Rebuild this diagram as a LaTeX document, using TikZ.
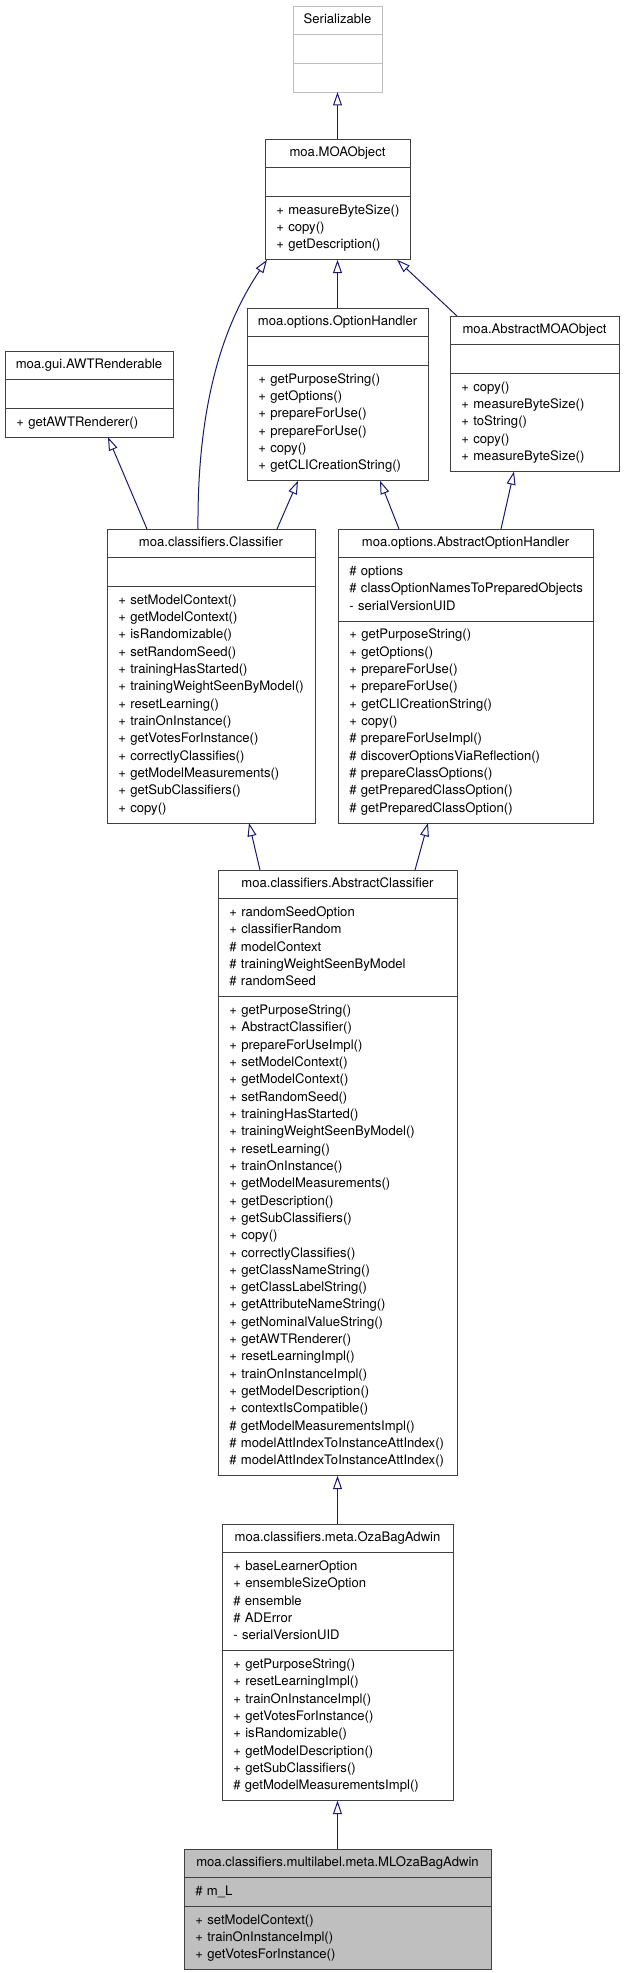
\documentclass[tikz,border=0pt]{standalone}
\usepackage{fontspec}
\setmainfont{TeX Gyre Heros}
\usetikzlibrary{arrows.meta,shapes.multipart}
\definecolor{midnightblue}{HTML}{191970}
\newcommand{\umlwidth}{0pt}
\newcommand{\umltitle}[1]{\makebox[\umlwidth][c]{\strut #1}}
\newcommand{\umlrow}[1]{\mbox{\strut #1}}

\begin{document}
\begin{tikzpicture}[x=1pt,y=-1pt,
    umlbox/.style={rectangle split, rectangle split parts=3, draw=black!75,
                   line width=1pt, text width=#1, inner xsep=11.3pt,
                   inner ysep=5.2pt, outer sep=0pt, align=left, anchor=north,
                   /utils/exec={\def\umlwidth{#1}},
                   font=\fontsize{13.1}{17.32}\selectfont},
    extern/.style={draw=black!25},
    current/.style={fill=black!25},
    inherit/.style={draw=midnightblue, line width=1pt,
                    -{Triangle[open,length=13.3pt,width=8.9pt]}}]
  \useasboundingbox (0,0) rectangle (624,1973);

  \node[umlbox=66.4pt,extern] (ser) at (337.5,6) {\umltitle{Serializable}
    \nodepart{two}\strut
    \nodepart{three}\strut};
  \node[umlbox=122.4pt] (moa) at (337.5,139) {\umltitle{moa.MOAObject}
    \nodepart{two}\strut
    \nodepart{three}\umlrow{+ measureByteSize()}\\\umlrow{+ copy()}\\\umlrow{+ getDescription()}};
  \node[umlbox=145.4pt] (awt) at (89,351) {\umltitle{moa.gui.AWTRenderable}
    \nodepart{two}\strut
    \nodepart{three}\umlrow{+ getAWTRenderer()}};
  \node[umlbox=158.4pt] (oh) at (337.5,308) {\umltitle{moa.options.OptionHandler}
    \nodepart{two}\strut
    \nodepart{three}\umlrow{+ getPurposeString()}\\\umlrow{+ getOptions()}\\\umlrow{+ prepareForUse()}\\
    \umlrow{+ prepareForUse()}\\\umlrow{+ copy()}\\\umlrow{+ getCLICreationString()}};
  \node[umlbox=146.4pt] (amo) at (534.5,316) {\umltitle{moa.AbstractMOAObject}
    \nodepart{two}\strut
    \nodepart{three}\umlrow{+ copy()}\\\umlrow{+ measureByteSize()}\\\umlrow{+ toString()}\\
    \umlrow{+ copy()}\\\umlrow{+ measureByteSize()}};
  \node[umlbox=185.4pt] (cls) at (211,529) {\umltitle{moa.classifiers.Classifier}
    \nodepart{two}\strut
    \nodepart{three}\umlrow{+ setModelContext()}\\\umlrow{+ getModelContext()}\\\umlrow{+ isRandomizable()}\\
    \umlrow{+ setRandomSeed()}\\\umlrow{+ trainingHasStarted()}\\\umlrow{+ trainingWeightSeenByModel()}\\
    \umlrow{+ resetLearning()}\\\umlrow{+ trainOnInstance()}\\\umlrow{+ getVotesForInstance()}\\
    \umlrow{+ correctlyClassifies()}\\\umlrow{+ getModelMeasurements()}\\\umlrow{+ getSubClassifiers()}\\
    \umlrow{+ copy()}};
  \node[umlbox=232.4pt] (aoh) at (465.5,529) {\umltitle{moa.options.AbstractOptionHandler}
    \nodepart{two}\umlrow{\# options}\\\umlrow{\# classOptionNamesToPreparedObjects}\\\umlrow{- serialVersionUID}
    \nodepart{three}\umlrow{+ getPurposeString()}\\\umlrow{+ getOptions()}\\\umlrow{+ prepareForUse()}\\
    \umlrow{+ prepareForUse()}\\\umlrow{+ getCLICreationString()}\\\umlrow{+ copy()}\\
    \umlrow{\# prepareForUseImpl()}\\\umlrow{\# discoverOptionsViaReflection()}\\
    \umlrow{\# prepareClassOptions()}\\\umlrow{\# getPreparedClassOption()}\\
    \umlrow{\# getPreparedClassOption()}};
  \node[umlbox=216.4pt] (ac) at (337.5,870) {\umltitle{moa.classifiers.AbstractClassifier}
    \nodepart{two}\umlrow{+ randomSeedOption}\\\umlrow{+ classifierRandom}\\\umlrow{\# modelContext}\\
    \umlrow{\# trainingWeightSeenByModel}\\\umlrow{\# randomSeed}
    \nodepart{three}\umlrow{+ getPurposeString()}\\\umlrow{+ AbstractClassifier()}\\\umlrow{+ prepareForUseImpl()}\\
    \umlrow{+ setModelContext()}\\\umlrow{+ getModelContext()}\\\umlrow{+ setRandomSeed()}\\
    \umlrow{+ trainingHasStarted()}\\\umlrow{+ trainingWeightSeenByModel()}\\\umlrow{+ resetLearning()}\\
    \umlrow{+ trainOnInstance()}\\\umlrow{+ getModelMeasurements()}\\\umlrow{+ getDescription()}\\
    \umlrow{+ getSubClassifiers()}\\\umlrow{+ copy()}\\\umlrow{+ correctlyClassifies()}\\
    \umlrow{+ getClassNameString()}\\\umlrow{+ getClassLabelString()}\\\umlrow{+ getAttributeNameString()}\\
    \umlrow{+ getNominalValueString()}\\\umlrow{+ getAWTRenderer()}\\\umlrow{+ resetLearningImpl()}\\
    \umlrow{+ trainOnInstanceImpl()}\\\umlrow{+ getModelDescription()}\\\umlrow{+ contextIsCompatible()}\\
    \umlrow{\# getModelMeasurementsImpl()}\\\umlrow{\# modelAttIndexToInstanceAttIndex()}\\
    \umlrow{\# modelAttIndexToInstanceAttIndex()}};
  \node[umlbox=208.4pt] (oza) at (337.5,1524) {\umltitle{moa.classifiers.meta.OzaBagAdwin}
    \nodepart{two}\umlrow{+ baseLearnerOption}\\\umlrow{+ ensembleSizeOption}\\\umlrow{\# ensemble}\\
    \umlrow{\# ADError}\\\umlrow{- serialVersionUID}
    \nodepart{three}\umlrow{+ getPurposeString()}\\\umlrow{+ resetLearningImpl()}\\\umlrow{+ trainOnInstanceImpl()}\\
    \umlrow{+ getVotesForInstance()}\\\umlrow{+ isRandomizable()}\\\umlrow{+ getModelDescription()}\\
    \umlrow{+ getSubClassifiers()}\\\umlrow{\# getModelMeasurementsImpl()}};
  \node[umlbox=284.4pt,current] (ml) at (337.5,1849) {\umltitle{moa.classifiers.multilabel.meta.MLOzaBagAdwin}
    \nodepart{two}\umlrow{\# m\_L}
    \nodepart{three}\umlrow{+ setModelContext()}\\\umlrow{+ trainOnInstanceImpl()}\\\umlrow{+ getVotesForInstance()}};

  % generalisations, child to parent
  \draw[inherit] (moa.north) -- (ser.south);
  \draw[inherit] (oh.north) -- (moa.south);
  \draw[inherit] ([xshift=-77.5pt]amo.north) -- ([xshift=59.5pt]moa.south);
  \draw[inherit] ([xshift=-13pt]cls.north) .. controls +(-1,-129) and +(-42,62) .. ([xshift=2pt]moa.south west);
  \draw[inherit] ([xshift=-64pt]cls.north) -- ([xshift=19pt]awt.south);
  \draw[inherit] ([xshift=66pt]cls.north) -- ([xshift=-39.5pt]oh.south);
  \draw[inherit] ([xshift=-66.5pt]aoh.north) -- ([xshift=42.5pt]oh.south);
  \draw[inherit] ([xshift=35.5pt]aoh.north) -- ([xshift=-20.5pt]amo.south);
  \draw[inherit] ([xshift=-77.5pt]ac.north) -- ([xshift=38pt]cls.south);
  \draw[inherit] ([xshift=77.5pt]ac.north) -- ([xshift=-37.5pt]aoh.south);
  \draw[inherit] (oza.north) -- (ac.south);
  \draw[inherit] (ml.north) -- (oza.south);
\end{tikzpicture}
\end{document}
